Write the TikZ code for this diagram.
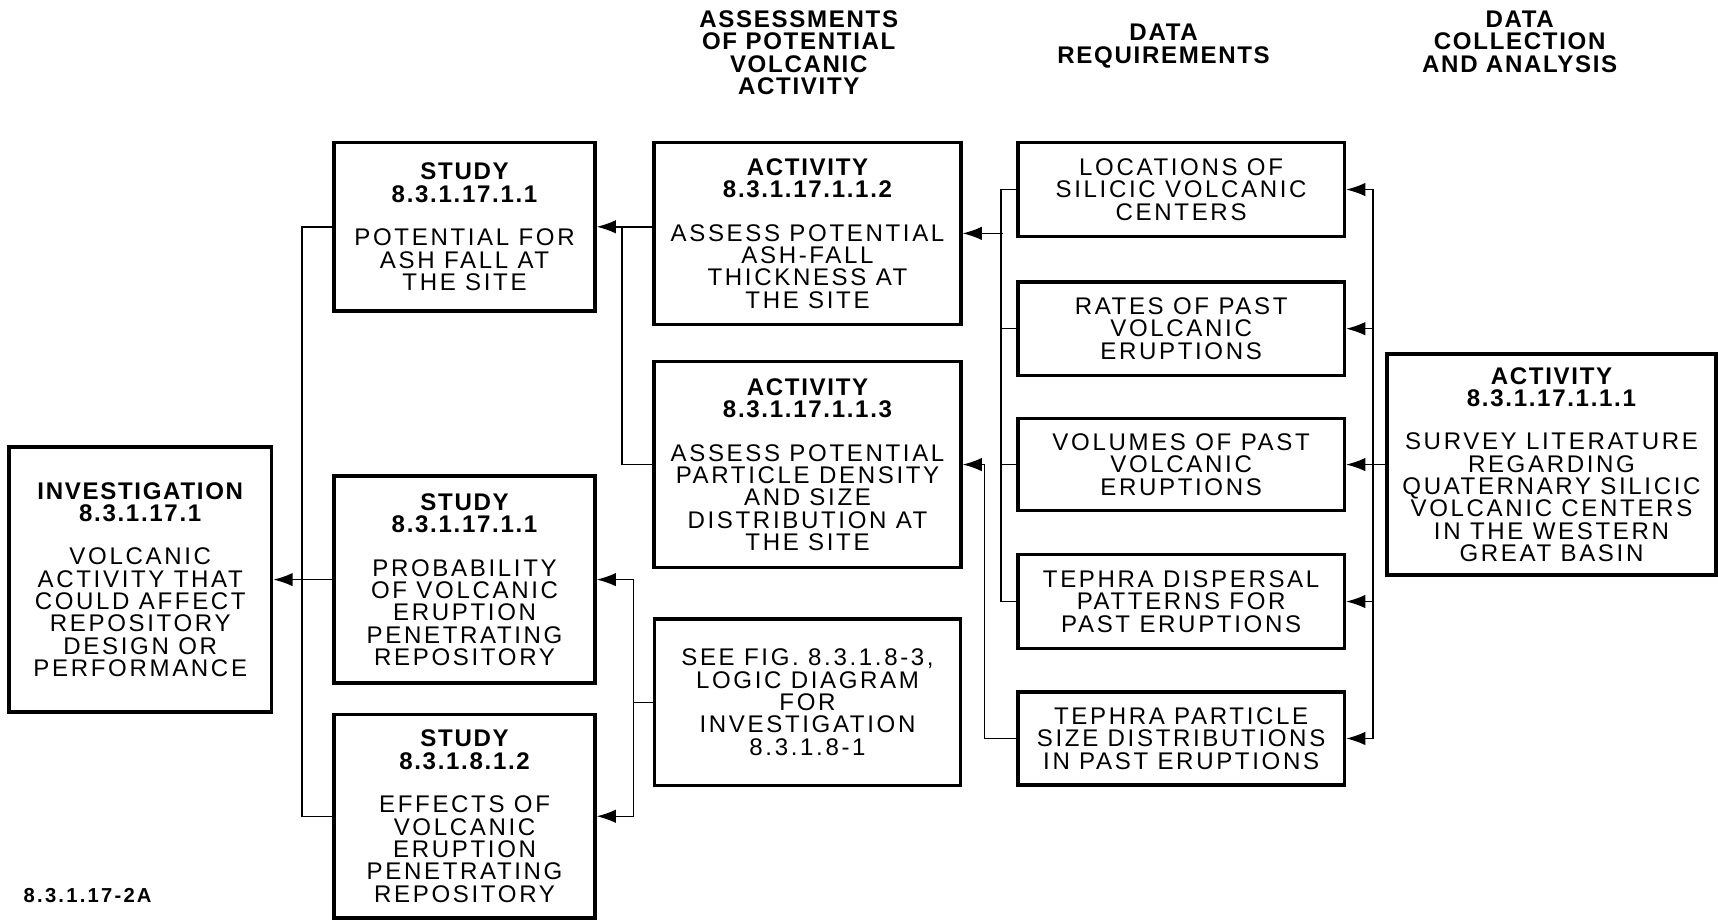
\documentclass[tikz,border=0pt]{standalone}
\usepackage{fontspec}
\newfontfamily\lerfont{Liberation Sans}[LetterSpace=11]
\newfontfamily\lerbold{Liberation Sans}[LetterSpace=7]
\usetikzlibrary{arrows.meta}
\newcommand{\hd}[1]{{\lerbold\bfseries #1}}

\begin{document}
\begin{tikzpicture}[x=0.02cm, y=-0.02cm, line width=0.8pt,
    box/.style={draw, line width=1.8pt, inner sep=0pt, align=center,
      font=\lerfont\fontsize{12.5}{11.6}\selectfont},
    head/.style={align=center, font=\lerbold\bfseries\fontsize{12.5}{11.6}\selectfont},
    arr/.style={-{Latex[length=10pt,width=7pt]}}]
  \useasboundingbox (0,0) rectangle (1568,841);
  % column headings
  \node[head] (hAss) at (729,48) {ASSESSMENTS\\OF POTENTIAL\\VOLCANIC\\ACTIVITY};
  \node[head] (hReq) at (1062,42) {DATA\\REQUIREMENTS};
  \node[head] (hCol) at (1387,38) {DATA\\COLLECTION\\AND ANALYSIS};

  % investigation and studies
  \node[box, minimum width=4.8cm, minimum height=4.84cm] (inv) at (128,529)
    {\hd{INVESTIGATION}\\\hd{8.3.1.17.1}\\[11pt]VOLCANIC\\ACTIVITY THAT\\COULD AFFECT\\REPOSITORY\\DESIGN OR\\PERFORMANCE};
  \node[box, minimum width=4.76cm, minimum height=3.08cm] (studyA) at (424,207)
    {\hd{STUDY}\\\hd{8.3.1.17.1.1}\\[11pt]POTENTIAL FOR\\ASH FALL AT\\THE SITE};
  \node[box, minimum width=4.76cm, minimum height=3.78cm] (studyB) at (424,529)
    {\hd{STUDY}\\\hd{8.3.1.17.1.1}\\[11pt]PROBABILITY\\OF VOLCANIC\\ERUPTION\\PENETRATING\\REPOSITORY};
  \node[box, minimum width=4.76cm, minimum height=3.72cm] (studyC) at (424,745)
    {\hd{STUDY}\\\hd{8.3.1.8.1.2}\\[11pt]EFFECTS OF\\VOLCANIC\\ERUPTION\\PENETRATING\\REPOSITORY};

  % assessments
  \node[box, minimum width=5.6cm, minimum height=3.32cm] (actB) at (737,213)
    {\hd{ACTIVITY}\\\hd{8.3.1.17.1.1.2}\\[11pt]ASSESS POTENTIAL\\ASH-FALL\\THICKNESS AT\\THE SITE};
  \node[box, minimum width=5.6cm, minimum height=3.76cm] (actC) at (737,424)
    {\hd{ACTIVITY}\\\hd{8.3.1.17.1.1.3}\\[11pt]ASSESS POTENTIAL\\PARTICLE DENSITY\\AND SIZE\\DISTRIBUTION AT\\THE SITE};
  \node[box, minimum width=5.58cm, minimum height=3.04cm] (seefig) at (737,641)
    {SEE FIG. 8.3.1.8-3,\\LOGIC DIAGRAM\\FOR\\INVESTIGATION\\8.3.1.8-1};

  % data requirements
  \node[box, minimum width=5.96cm, minimum height=1.72cm] (dLoc) at (1078,173)
    {LOCATIONS OF\\SILICIC VOLCANIC\\CENTERS};
  \node[box, minimum width=5.96cm, minimum height=1.7cm] (dRate) at (1078,300)
    {RATES OF PAST\\VOLCANIC\\ERUPTIONS};
  \node[box, minimum width=5.96cm, minimum height=1.68cm] (dVol) at (1078,424)
    {VOLUMES OF PAST\\VOLCANIC\\ERUPTIONS};
  \node[box, minimum width=5.96cm, minimum height=1.72cm] (dDisp) at (1078,549)
    {TEPHRA DISPERSAL\\PATTERNS FOR\\PAST ERUPTIONS};
  \node[box, minimum width=5.96cm, minimum height=1.7cm] (dSize) at (1078,674)
    {TEPHRA PARTICLE\\SIZE DISTRIBUTIONS\\IN PAST ERUPTIONS};

  % data collection
  \node[box, minimum width=6cm, minimum height=4.04cm] (actA) at (1416,424)
    {\hd{ACTIVITY}\\\hd{8.3.1.17.1.1.1}\\[11pt]SURVEY LITERATURE\\REGARDING\\QUATERNARY SILICIC\\VOLCANIC CENTERS\\IN THE WESTERN\\GREAT BASIN};

  \node[font=\lerfont\bfseries\fontsize{10.5}{12}\selectfont] (figno) at (80,817) {8.3.1.17-2A};

  % bus points
  \coordinate (busA) at (569,207);
  \coordinate (busB) at (578,641);
  \coordinate (busC) at (915,213);
  \coordinate (busD) at (1253,424);

  % connectors
  \draw (studyA.west) -- ++(-28,0) |- (studyC.west);
  \draw[arr] (studyB.west) -- (studyB.west -| inv.east);
  \draw[arr] (actB.west |- studyA.east) -- (studyA.east);
  \draw (actC.west) -- ++(-28,0) |- (busA);
  \draw (seefig.west) -- (busB);
  \draw[arr] (busB) |- (studyB.east);
  \draw[arr] (busB) |- (studyC.east);
  \draw[arr] (busC) -- (actB.east);
  \draw (dLoc.west) -- ++(-14,0) |- (dDisp.west);
  \draw (dRate.west) -- ++(-14,0);
  \draw (dVol.west) -- ++(-14,0);
  \draw[arr] (dSize.west) -- ++(-29,0) |- (actC.east);
  \draw (actA.west) -- (busD);
  \foreach \d in {dLoc,dRate,dVol,dDisp,dSize}
    \draw[arr] (busD) |- (\d.east);
\end{tikzpicture}
\end{document}
